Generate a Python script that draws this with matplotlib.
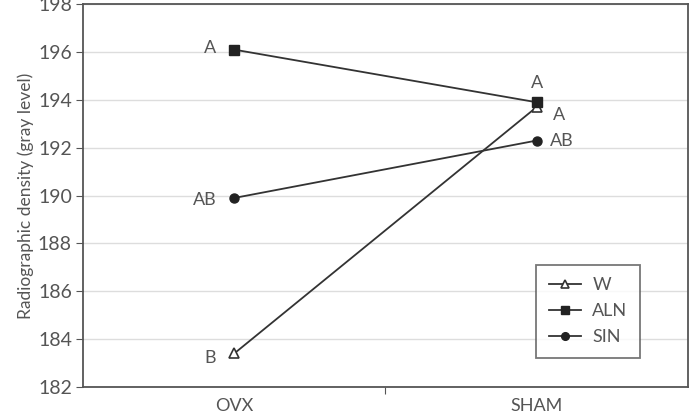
import matplotlib
matplotlib.use("Agg")
import matplotlib.pyplot as plt

# data
groups = ["OVX", "SHAM"]
w_vals = [183.4, 193.7]
aln_vals = [196.1, 193.9]
sin_vals = [189.9, 192.3]

w_letters = ["B", "A"]
aln_letters = ["A", "A"]
sin_letters = ["AB", "AB"]

plt.rcParams["font.family"] = ["Lato", "DejaVu Sans"]
txt = "#555555"

fig = plt.figure(figsize=(6.92, 4.17), dpi=100)
ax = fig.add_axes([0.12, 0.072, 0.874, 0.918])

x = list(range(len(groups)))
ax.plot(x, w_vals, color="#333333", lw=1.3, marker="^", ms=6.5,
        mfc="white", mec="#333333", mew=1.2, label="W", zorder=3)
ax.plot(x, aln_vals, color="#333333", lw=1.3, marker="s", ms=6.5,
        mfc="#222222", mec="#222222", label="ALN", zorder=3)
ax.plot(x, sin_vals, color="#333333", lw=1.3, marker="o", ms=6.5,
        mfc="#222222", mec="#222222", label="SIN", zorder=3)

# significance letters
fs = 13
ax.text(0 - 0.06, aln_vals[0] + 0.05, aln_letters[0], ha="right", va="center", color=txt, fontsize=fs)
ax.text(0 - 0.06, sin_vals[0] - 0.1, sin_letters[0], ha="right", va="center", color=txt, fontsize=fs)
ax.text(0 - 0.06, w_vals[0] - 0.2, w_letters[0], ha="right", va="center", color=txt, fontsize=fs)
ax.text(1, aln_vals[1] + 0.45, aln_letters[1], ha="center", va="bottom", color=txt, fontsize=fs)
ax.text(1 + 0.055, w_vals[1] - 0.35, w_letters[1], ha="left", va="center", color=txt, fontsize=fs)
ax.text(1 + 0.045, sin_vals[1], sin_letters[1], ha="left", va="center", color=txt, fontsize=fs)

ax.set_xlim(-0.5, 1.5)
ax.set_ylim(182, 198)
ax.set_yticks(range(182, 199, 2))
ax.set_xticks([0.5])
ax.set_xticklabels([""])
ax.set_xticks(x, minor=True)
ax.set_xticklabels(groups, minor=True)
ax.tick_params(axis="x", which="minor", length=0, pad=8, labelsize=13, labelcolor=txt)
ax.tick_params(axis="x", which="major", length=5, color="#555555")
ax.tick_params(axis="y", length=5, color="#555555", labelsize=14, labelcolor=txt, pad=3)
ax.grid(axis="y", color="#dddddd", lw=1)
ax.set_axisbelow(True)
for s in ax.spines.values():
    s.set_color("#555555")
    s.set_linewidth(1.3)

ax.set_ylabel("Radiographic density (gray level)", color=txt, fontsize=12.5, labelpad=3)

leg = ax.legend(loc="lower right", bbox_to_anchor=(0.921, 0.076), borderaxespad=0,
                fontsize=13, frameon=True, fancybox=False, handlelength=1.8,
                handletextpad=0.6, labelspacing=0.55, borderpad=0.7, markerscale=0.85)
leg.get_frame().set_edgecolor("#555555")
leg.get_frame().set_linewidth(1.3)
for t in leg.get_texts():
    t.set_color(txt)

fig.savefig("out.png", dpi=100)
